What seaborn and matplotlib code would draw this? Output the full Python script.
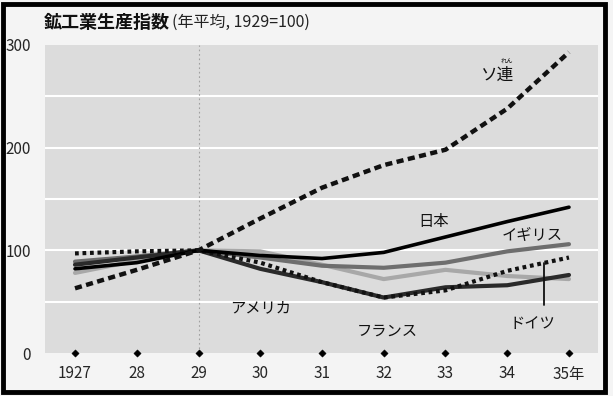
import numpy as np
import pandas as pd
import matplotlib
matplotlib.use("Agg")
import matplotlib.pyplot as plt
from matplotlib.patches import Rectangle
import seaborn as sns

# ---- data (index, 1929 = 100) ----
years = [1927, 1928, 1929, 1930, 1931, 1932, 1933, 1934, 1935]
soviet = [63, 81, 100, 131, 161, 183, 198, 238, 293]
japan = [82, 88, 100, 95, 92, 98, 113, 128, 142]
uk = [89, 94, 100, 93, 85, 83, 88, 99, 106]
usa = [86, 93, 100, 82, 69, 54, 64, 66, 76]
france = [78, 90, 100, 99, 86, 72, 81, 75, 72]
germany = [97, 99, 100, 88, 69, 54, 61, 80, 93]

xtick_labels = ["1927", "28", "29", "30", "31", "32", "33", "34", "35年"]
ytick_values = [0, 100, 200, 300]

sns.set_theme(style="white")
plt.rcParams["font.family"] = ["Noto Sans CJK JP", "DejaVu Sans"]

fig = plt.figure(figsize=(6.13, 3.96), dpi=100)
fig.patch.set_facecolor("#f4f4f4")
ax = fig.add_axes([45 / 613, 1 - 353 / 396, 553 / 613, 308 / 396])
ax.set_facecolor("#dcdcdc")

# series styles: (values, color, linestyle, linewidth)
series = [
    ("フランス", france, "#a8a8a8", "-", 3.0),
    ("イギリス", uk, "#6e6e6e", "-", 3.0),
    ("アメリカ", usa, "#2a2a2a", "-", 3.0),
    ("ドイツ", germany, "#111111", (0, (0.9, 0.9)), 3.0),
    ("日本", japan, "#000000", "-", 2.6),
    ("ソ連", soviet, "#111111", (0, (1.6, 1.0)), 3.2),
]
for name, vals, col, ls, lw in series:
    df = pd.DataFrame({"year": years, "index": vals})
    sns.lineplot(data=df, x="year", y="index", ax=ax, color=col,
                 linewidth=lw, linestyle=ls, zorder=3)

# white grid every 50
for v in [50, 100, 150, 200, 250]:
    ax.axhline(v, color="white", lw=1.5, zorder=1)
ax.axvline(1929, color="#a0a0a0", lw=0.8, ls=(0, (1.5, 2.5)), zorder=1)

# year markers on the baseline
sns.scatterplot(x=years, y=[0] * len(years), ax=ax, marker="D", s=14,
                color="black", edgecolor="black", clip_on=False, zorder=4)

ax.set_xlim(1926.514, 1935.47)
ax.set_ylim(0, 300)
ax.set_xticks(years)
ax.set_xticklabels(xtick_labels, fontsize=11)
ax.set_yticks(ytick_values)
ax.set_yticklabels([str(v) for v in ytick_values], fontsize=11)
ax.tick_params(axis="x", length=0, pad=9)
ax.tick_params(axis="y", length=0, pad=10)
ax.set_xlabel("")
ax.set_ylabel("")
for s in ax.spines.values():
    s.set_visible(False)

# labels
ax.text(1933.85, 270, "ソ連", fontsize=12, ha="center", va="center", color="#111")
ax.text(1934.0, 285, "れん", fontsize=4.5, ha="center", va="center", color="#111")
ax.text(1932.8, 128, "日本", fontsize=11, ha="center", va="center", color="#111")
ax.text(1934.4, 115, "イギリス", fontsize=11, ha="center", va="center", color="#111")
ax.text(1930.0, 44, "アメリカ", fontsize=11, ha="center", va="center", color="#111")
ax.text(1932.05, 21, "フランス", fontsize=11, ha="center", va="center", color="#111")
ax.text(1934.4, 29, "ドイツ", fontsize=11, ha="center", va="center", color="#111")
ax.plot([1934.6, 1934.6], [47, 88], color="#111", lw=1.3, zorder=5)

# title: bold part, then the note right after it
t1 = fig.text(44 / 613, 1 - 22 / 396, "鉱工業生産指数", fontsize=13,
              fontweight="bold", ha="left", va="center", color="#111")
fig.canvas.draw()
bb = t1.get_window_extent(renderer=fig.canvas.get_renderer())
fig.text(bb.x1 / 613 + 2 / 613, 1 - 22 / 396, "(年平均, 1929=100)", fontsize=11.5,
         ha="left", va="center", color="#222")

# frame
fig.patches.append(Rectangle((3 / 613, 4 / 396), 602 / 613, 388 / 396,
                             transform=fig.transFigure, fill=False,
                             edgecolor="black", linewidth=3.5, zorder=10))

fig.savefig("out.png", dpi=100, facecolor=fig.get_facecolor())
